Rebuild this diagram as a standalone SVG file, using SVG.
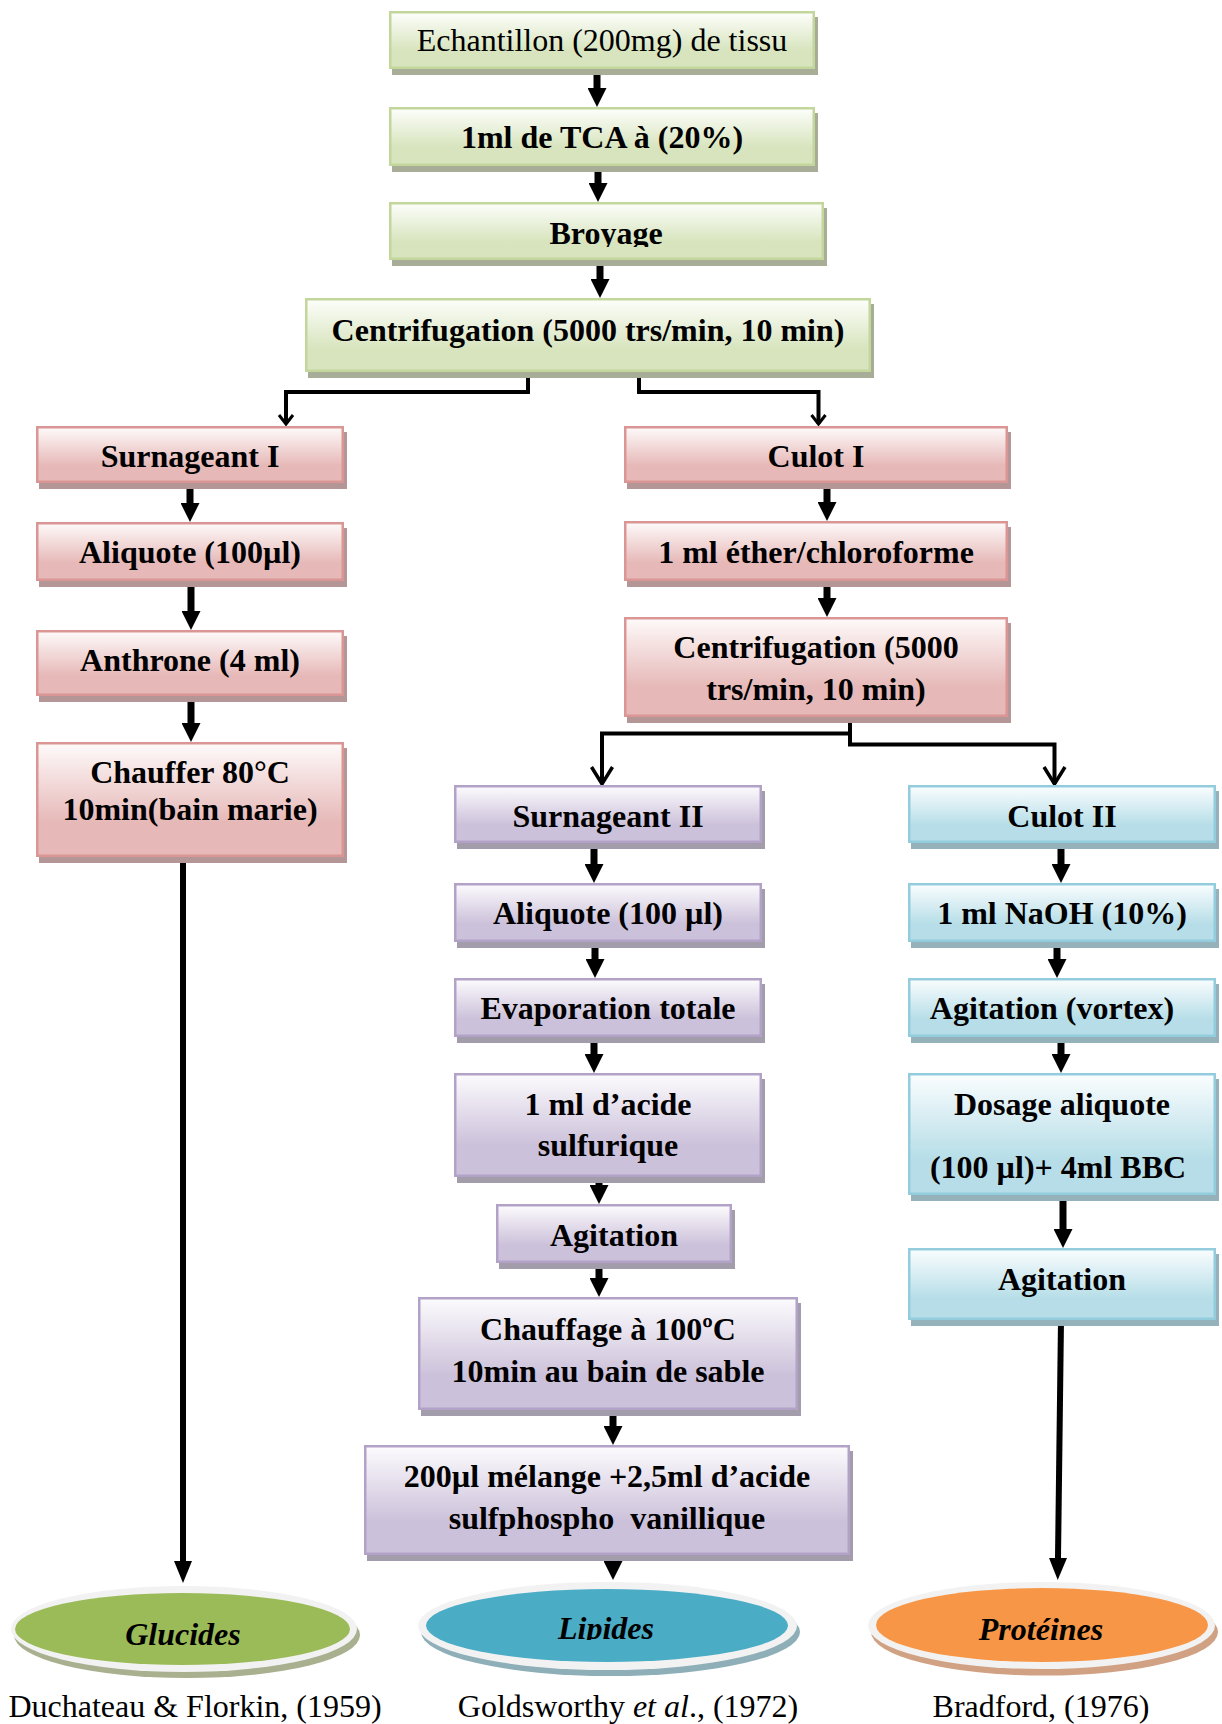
<svg xmlns="http://www.w3.org/2000/svg" width="1222" height="1724" viewBox="0 0 1222 1724">
<style>
.t{font-family:"Liberation Serif","Times New Roman",serif;font-size:32px;text-anchor:middle;fill:#000}
.b{font-weight:bold}
.bi{font-weight:bold;font-style:italic}
.box{stroke-width:2.5}
.g{fill:url(#gG);stroke:#c3d69b}
.p{fill:url(#gP);stroke:#d99694}
.u{fill:url(#gU);stroke:#b3a2c7}
.c{fill:url(#gC);stroke:#93cddd}
.sg{fill:#a8ad98}
.sp{fill:#b59696}
.su{fill:#a39dab}
.sc{fill:#95b1b9}
.thick{stroke:#000;stroke-width:7;fill:none;marker-end:url(#ah)}
.long{stroke:#000;stroke-width:6;fill:none;marker-end:url(#ah2)}
.split{stroke:#000;stroke-width:4;fill:none;stroke-linejoin:miter}
.rim{fill:#f2f2f2}
</style>
<defs>
<linearGradient id="gG" x1="0" y1="0" x2="0" y2="1"><stop offset="0" stop-color="#fdfefb"/><stop offset="0.7" stop-color="#d7e4bd"/><stop offset="1" stop-color="#d7e4bd"/></linearGradient>
<linearGradient id="gP" x1="0" y1="0" x2="0" y2="1"><stop offset="0" stop-color="#fefafa"/><stop offset="0.7" stop-color="#e6b9b8"/><stop offset="1" stop-color="#e6b9b8"/></linearGradient>
<linearGradient id="gU" x1="0" y1="0" x2="0" y2="1"><stop offset="0" stop-color="#fcfbfd"/><stop offset="0.7" stop-color="#ccc1da"/><stop offset="1" stop-color="#ccc1da"/></linearGradient>
<linearGradient id="gC" x1="0" y1="0" x2="0" y2="1"><stop offset="0" stop-color="#fafdfe"/><stop offset="0.7" stop-color="#b7dee8"/><stop offset="1" stop-color="#b7dee8"/></linearGradient>
<marker id="ah" markerUnits="userSpaceOnUse" markerWidth="19" markerHeight="19" refX="0" refY="9.5" orient="auto" viewBox="0 0 19 19"><path d="M0,0 L19,9.5 L0,19 Z" fill="#000"/></marker>
<marker id="ah2" markerUnits="userSpaceOnUse" markerWidth="22" markerHeight="18" refX="0" refY="9" orient="auto" viewBox="0 0 22 18"><path d="M0,0 L22,9 L0,18 Z" fill="#000"/></marker>
<marker id="vs" markerUnits="userSpaceOnUse" markerWidth="12" markerHeight="18" refX="10" refY="9" orient="auto" viewBox="0 0 12 18" overflow="visible"><path d="M1,2 L10,9 L1,16" fill="none" stroke="#000" stroke-width="3"/></marker>
<marker id="vl" markerUnits="userSpaceOnUse" markerWidth="20" markerHeight="24" refX="17" refY="11" orient="auto" viewBox="0 0 20 24" overflow="visible"><path d="M0,0.5 L17,11 L0,21.5" fill="none" stroke="#000" stroke-width="3.5"/></marker>
<clipPath id="clipB"><rect x="389" y="202" width="435" height="45"/></clipPath>
<clipPath id="clipL"><rect x="420" y="1590" width="380" height="50"/></clipPath>
</defs>
<rect width="1222" height="1724" fill="#fff"/>

<g id="connectors">
<path class="thick" d="M597 69 V88"/>
<path class="thick" d="M598 166 V183"/>
<path class="thick" d="M600 260 V279"/>
<path class="split" marker-end="url(#vs)" d="M528 372 V392 H286 V424"/>
<path class="split" marker-end="url(#vs)" d="M639 372 V392 H818.5 V424"/>
<path class="thick" d="M190 483 V503"/>
<path class="thick" d="M191 581 V611"/>
<path class="thick" d="M191 696 V723"/>
<path class="long" d="M183 857 V1561"/>
<path class="thick" d="M827 483 V502"/>
<path class="thick" d="M827 581 V598"/>
<path class="split" stroke-width="5" marker-end="url(#vl)" d="M850 716 V733.5 H602 V784"/>
<path class="split" stroke-width="5" marker-end="url(#vl)" d="M850 730 V744.5 H1054.5 V784"/>
<path class="thick" d="M594 843 V864"/>
<path class="thick" d="M595 942 V959"/>
<path class="thick" d="M594 1037 V1054"/>
<path class="thick" d="M599 1177 V1185"/>
<path class="thick" d="M599 1263 V1278"/>
<path class="thick" d="M613 1410 V1426"/>
<path class="thick" d="M613 1555 V1561"/>
<path class="thick" d="M1061 843 V864"/>
<path class="thick" d="M1057 942 V959"/>
<path class="thick" d="M1061 1037 V1054"/>
<path class="thick" d="M1063 1195 V1229"/>
<path class="long" d="M1061 1320 L1058 1558"/>
</g>

<g id="n-echantillon">
<rect class="sg" x="392" y="17" width="426" height="58"/>
<rect class="box g" x="390.25" y="12.25" width="423.5" height="55.5"/>
<text class="t" x="602" y="51">Echantillon (200mg) de tissu</text>
</g>
<g id="n-tca">
<rect class="sg" x="392" y="113" width="426" height="59"/>
<rect class="box g" x="390.25" y="108.25" width="423.5" height="56.5"/>
<text class="t b" x="602" y="148">1ml de TCA à (20%)</text>
</g>
<g id="n-broyage">
<rect class="sg" x="392" y="208" width="435" height="58"/>
<rect class="box g" x="390.25" y="203.25" width="432.5" height="55.5"/>
<text class="t b" x="606" y="244" clip-path="url(#clipB)">Broyage</text>
</g>
<g id="n-centrif1">
<rect class="sg" x="308" y="304" width="566" height="74"/>
<rect class="box g" x="306.25" y="299.25" width="563.5" height="71.5"/>
<text class="t b" x="588" y="341">Centrifugation (5000 trs/min, 10 min)</text>
</g>

<g id="n-surnageant1">
<rect class="sp" x="39" y="432" width="308" height="57"/>
<rect class="box p" x="37.25" y="427.25" width="305.5" height="54.5"/>
<text class="t b" x="190" y="467">Surnageant I</text>
</g>
<g id="n-aliquote1">
<rect class="sp" x="39" y="528" width="308" height="59"/>
<rect class="box p" x="37.25" y="523.25" width="305.5" height="56.5"/>
<text class="t b" x="190" y="563">Aliquote (100µl)</text>
</g>
<g id="n-anthrone">
<rect class="sp" x="39" y="636" width="308" height="66"/>
<rect class="box p" x="37.25" y="631.25" width="305.5" height="63.5"/>
<text class="t b" x="190" y="671">Anthrone (4 ml)</text>
</g>
<g id="n-chauffer">
<rect class="sp" x="39" y="748" width="308" height="115"/>
<rect class="box p" x="37.25" y="743.25" width="305.5" height="112.5"/>
<text class="t b" x="190" y="783">Chauffer 80°C</text>
<text class="t b" x="190" y="820">10min(bain marie)</text>
</g>

<g id="n-culot1">
<rect class="sp" x="627" y="432" width="384" height="57"/>
<rect class="box p" x="625.25" y="427.25" width="381.5" height="54.5"/>
<text class="t b" x="816" y="467">Culot I</text>
</g>
<g id="n-ether">
<rect class="sp" x="627" y="527" width="384" height="60"/>
<rect class="box p" x="625.25" y="522.25" width="381.5" height="57.5"/>
<text class="t b" x="816" y="563">1 ml éther/chloroforme</text>
</g>
<g id="n-centrif2">
<rect class="sp" x="627" y="623" width="384" height="100"/>
<rect class="box p" x="625.25" y="618.25" width="381.5" height="97.5"/>
<text class="t b" x="816" y="658">Centrifugation (5000</text>
<text class="t b" x="816" y="700">trs/min, 10 min)</text>
</g>

<g id="n-surnageant2">
<rect class="su" x="457" y="791" width="308" height="58"/>
<rect class="box u" x="455.25" y="786.25" width="305.5" height="55.5"/>
<text class="t b" x="608" y="827">Surnageant II</text>
</g>
<g id="n-aliquote2">
<rect class="su" x="457" y="889" width="308" height="59"/>
<rect class="box u" x="455.25" y="884.25" width="305.5" height="56.5"/>
<text class="t b" x="608" y="924">Aliquote (100 µl)</text>
</g>
<g id="n-evaporation">
<rect class="su" x="457" y="984" width="308" height="59"/>
<rect class="box u" x="455.25" y="979.25" width="305.5" height="56.5"/>
<text class="t b" x="608" y="1019">Evaporation totale</text>
</g>
<g id="n-acide">
<rect class="su" x="457" y="1079" width="308" height="104"/>
<rect class="box u" x="455.25" y="1074.25" width="305.5" height="101.5"/>
<text class="t b" x="608" y="1115">1 ml d’acide</text>
<text class="t b" x="608" y="1156">sulfurique</text>
</g>
<g id="n-agitation1">
<rect class="su" x="499" y="1210" width="236" height="59"/>
<rect class="box u" x="497.25" y="1205.25" width="233.5" height="56.5"/>
<text class="t b" x="614" y="1246">Agitation</text>
</g>
<g id="n-chauffage">
<rect class="su" x="421" y="1303" width="380" height="113"/>
<rect class="box u" x="419.25" y="1298.25" width="377.5" height="110.5"/>
<text class="t b" x="608" y="1340">Chauffage à 100ºC</text>
<text class="t b" x="608" y="1382">10min au bain de sable</text>
</g>
<g id="n-melange">
<rect class="su" x="367" y="1451" width="486" height="110"/>
<rect class="box u" x="365.25" y="1446.25" width="483.5" height="107.5"/>
<text class="t b" x="607" y="1487">200µl mélange +2,5ml d’acide</text>
<text class="t b" x="607" y="1529" xml:space="preserve">sulfphospho  vanillique</text>
</g>

<g id="n-culot2">
<rect class="sc" x="911" y="791" width="308" height="58"/>
<rect class="box c" x="909.25" y="786.25" width="305.5" height="55.5"/>
<text class="t b" x="1062" y="827">Culot II</text>
</g>
<g id="n-naoh">
<rect class="sc" x="911" y="889" width="308" height="59"/>
<rect class="box c" x="909.25" y="884.25" width="305.5" height="56.5"/>
<text class="t b" x="1062" y="924">1 ml NaOH (10%)</text>
</g>
<g id="n-vortex">
<rect class="sc" x="911" y="984" width="308" height="59"/>
<rect class="box c" x="909.25" y="979.25" width="305.5" height="56.5"/>
<text class="t b" x="1052" y="1019">Agitation (vortex)</text>
</g>
<g id="n-dosage">
<rect class="sc" x="911" y="1079" width="308" height="122"/>
<rect class="box c" x="909.25" y="1074.25" width="305.5" height="119.5"/>
<text class="t b" x="1062" y="1115">Dosage aliquote</text>
<text class="t b" x="1058" y="1178">(100 µl)+ 4ml BBC</text>
</g>
<g id="n-agitation2">
<rect class="sc" x="911" y="1254" width="308" height="72"/>
<rect class="box c" x="909.25" y="1249.25" width="305.5" height="69.5"/>
<text class="t b" x="1062" y="1290">Agitation</text>
</g>

<g id="n-glucides">
<ellipse cx="187" cy="1635" rx="173" ry="43" fill="#a8b08f"/>
<ellipse class="rim" cx="184" cy="1629" rx="173" ry="43"/>
<ellipse cx="182.5" cy="1629" rx="167.5" ry="36" fill="#9bbb59"/>
<text class="t bi" x="183" y="1645">Glucides</text>
</g>
<g id="n-lipides">
<ellipse cx="610.5" cy="1632" rx="189.5" ry="44" fill="#8eafb8"/>
<ellipse class="rim" cx="607.5" cy="1626" rx="189.5" ry="44"/>
<ellipse cx="607" cy="1625.5" rx="181" ry="36.5" fill="#4bacc6"/>
<text class="t bi" x="606" y="1639" clip-path="url(#clipL)">Lipides</text>
</g>
<g id="n-proteines">
<ellipse cx="1044.5" cy="1632" rx="173.5" ry="43.5" fill="#d0a283"/>
<ellipse class="rim" cx="1041.5" cy="1625.5" rx="173.5" ry="43.5"/>
<ellipse cx="1042" cy="1625" rx="166" ry="37" fill="#f79646"/>
<text class="t bi" x="1041" y="1640">Protéines</text>
</g>

<g id="references">
<text class="t" x="195" y="1717">Duchateau &amp; Florkin, (1959)</text>
<text class="t" x="628" y="1717">Goldsworthy <tspan font-style="italic">et al</tspan>., (1972)</text>
<text class="t" x="1041" y="1717">Bradford, (1976)</text>
</g>
</svg>
